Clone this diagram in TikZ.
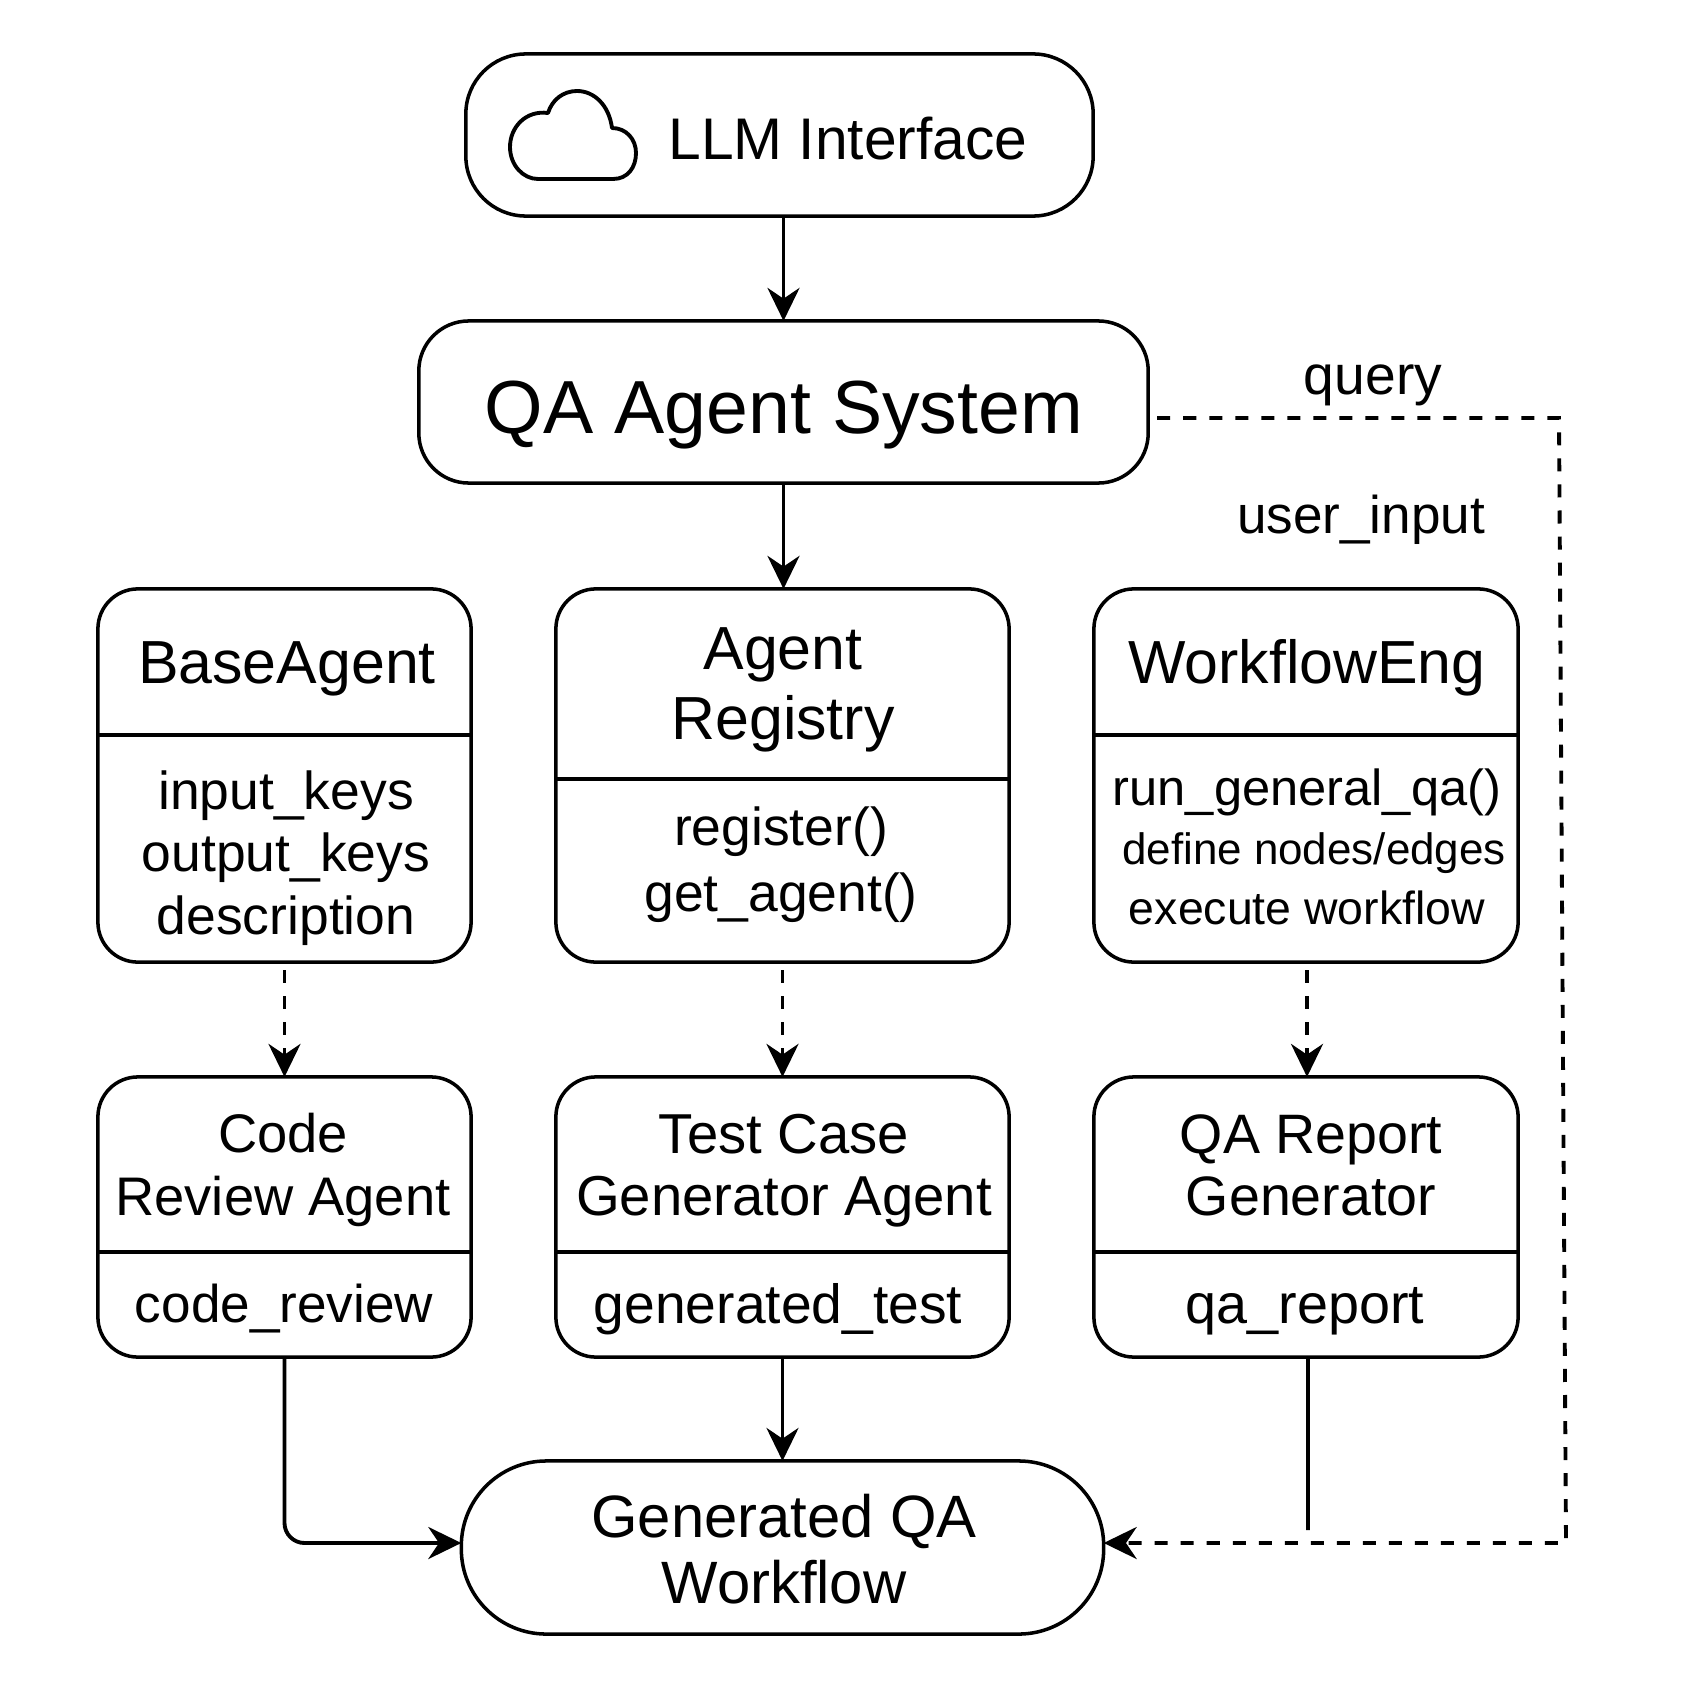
\documentclass[tikz,border=0pt]{standalone}
\usepackage{fontspec}
\setmainfont{Liberation Sans}
\usetikzlibrary{arrows.meta,positioning,calc}
\tikzset{
  box/.style={draw, line width=1pt, rounded corners=.4cm, inner sep=0pt, outer sep=0pt},
  title/.style={align=center, inner sep=0pt, font=\fontsize{16.5}{19.5}\selectfont},
  member/.style={align=center, inner sep=0pt, font=\fontsize{15.2}{17.8}\selectfont},
  tag/.style={inner sep=0pt, font=\fontsize{15.1}{18}\selectfont},
  line/.style={-{Stealth[length=3.3mm, width=3.2mm]}, line width=1.1pt},
  dashline/.style={-{Stealth[length=3.3mm, width=3.2mm]}, line width=1.1pt, dash pattern=on 1.3mm off 1.3mm},
  divider/.style={line width=1pt}
}
\begin{document}
\begin{tikzpicture}[x=.01cm, y=-.01cm]
        \useasboundingbox (0,0) rectangle (1694,1694);
        % top of the stack
        \node[box, rounded corners=.6cm, minimum width=6.27cm, minimum height=1.62cm] (llm) at (779.5,135) {};
        \node[title, font=\fontsize{16.7}{20}\selectfont] (llmtext) at (848,139) {LLM Interface};
        \draw[line width=1.1pt, line join=round] (538,179) -- (613,179) .. controls (628,179) and (636,167) .. (636,153) .. controls (636,139) and (626,128) .. (612,128) .. controls (609,105) and (594,91) .. (577,91) .. controls (563,91) and (552,100) .. (548,113) .. controls (526,110) and (510,127) .. (510,147) .. controls (510,165) and (523,179) .. (538,179) -- cycle;
        \node[box, rounded corners=.5cm, minimum width=7.29cm, minimum height=1.62cm] (qa) at (783.5,402) {};
        \node[title, font=\fontsize{21.4}{26}\selectfont] (qatext) at (784,415) {QA Agent System};
        \node[tag, font=\fontsize{15.7}{18}\selectfont] (query) at (1373,385) {query};
        \node[tag] (userinput) at (1361,520) {user\_input};

        % upper row
        \node[box, minimum width=3.73cm, minimum height=3.73cm] (base) at (284.5,775.5) {};
        \node[box, minimum width=4.53cm, minimum height=3.73cm] (registry) at (782.5,775.5) {};
        \node[box, minimum width=4.24cm, minimum height=3.73cm] (workflow) at (1306,775.5) {};
        \draw[divider] (base.west |- 0,735) -- (base.east |- 0,735);
        \draw[divider] (registry.west |- 0,779) -- (registry.east |- 0,779);
        \draw[divider] (workflow.west |- 0,735) -- (workflow.east |- 0,735);
        \node[title, font=\fontsize{17.3}{20}\selectfont] (basetitle) at (287,669) {BaseAgent};
        \node[member] (basemember) at (286,858) {input\_keys\\output\_keys\\description};
        \node[title, font=\fontsize{17.3}{19.9}\selectfont] (registrytitle) at (783,690) {Agent\\Registry};
        \node[member, font=\fontsize{15.2}{18.8}\selectfont] (registrymember) at (781,865) {register()\\get\_agent()};
        \node[title, font=\fontsize{17.3}{20}\selectfont] (workflowtitle) at (1307,668) {WorkflowEng};
        \node[member, font=\fontsize{14.4}{17}\selectfont] (workflowrun) at (1307,792) {run\_general\_qa()};
        \node[member, font=\fontsize{12.5}{15}\selectfont] (workflowdefine) at (1314,853) {define nodes/edges};
        \node[member, font=\fontsize{13.2}{17}\selectfont] (workflowexec) at (1307,908) {execute workflow};

        % lower row
        \node[box, minimum width=3.73cm, minimum height=2.80cm] (code) at (284.5,1217) {};
        \node[box, minimum width=4.53cm, minimum height=2.80cm] (test) at (782.5,1217) {};
        \node[box, minimum width=4.24cm, minimum height=2.80cm] (report) at (1306,1217) {};
        \draw[divider] (code.west |- 0,1252) -- (code.east |- 0,1252);
        \draw[divider] (test.west |- 0,1252) -- (test.east |- 0,1252);
        \draw[divider] (report.west |- 0,1252) -- (report.east |- 0,1252);
        \node[title, font=\fontsize{15.45}{17.7}\selectfont] (codetitle) at (283,1170) {Code\\Review Agent};
        \node[title, font=\fontsize{16}{17.7}\selectfont] (testtitle) at (784,1171) {Test Case\\Generator Agent};
        \node[title, font=\fontsize{15.8}{17.7}\selectfont] (reporttitle) at (1311,1165) {QA Report\\Generator};
        \node[member, font=\fontsize{15.1}{17.8}\selectfont] (codemember) at (284,1309) {code\_review};
        \node[member, font=\fontsize{15.7}{17.8}\selectfont] (testmember) at (778,1309) {generated\_test};
        \node[member, font=\fontsize{15.85}{17.8}\selectfont] (reportmember) at (1305,1311) {qa\_report};

        % bottom
        \node[box, rounded corners=.85cm, minimum width=6.42cm, minimum height=1.73cm] (gen) at (782.5,1547.5) {};
        \node[title, font=\fontsize{17}{18.75}\selectfont] (gentext) at (784,1549) {Generated QA\\Workflow};

        % connectors
        \coordinate (reportend) at (1308,1530);
        \coordinate (bendtop) at (1559,418);
        \coordinate (bendbottom) at (1566,1543);
        \draw[line] (qa.north |- llm.south) -- (qa.north);
        \draw[line] (qa.south) -- (registry.north -| qa.south);
        \draw[dashline] ([yshift=-.08cm]base.south) -- (code.north);
        \draw[dashline] ([yshift=-.08cm]registry.south) -- (test.north);
        \draw[dashline] ([shift={(1,8)}]workflow.south) -- ([xshift=.01cm]report.north);
        \draw[line, rounded corners=.2cm] (code.south) |- ([yshift=.045cm]gen.west);
        \draw[line] (test.south) -- (gen.north);
        \draw[line width=1.1pt] ([xshift=.02cm]report.south) -- (reportend);
        \draw[dashline] ([shift={(9,16)}]qa.east) -- (bendtop) -- (bendbottom) -- ([yshift=.045cm]gen.east);
      \end{tikzpicture}
\end{document}
